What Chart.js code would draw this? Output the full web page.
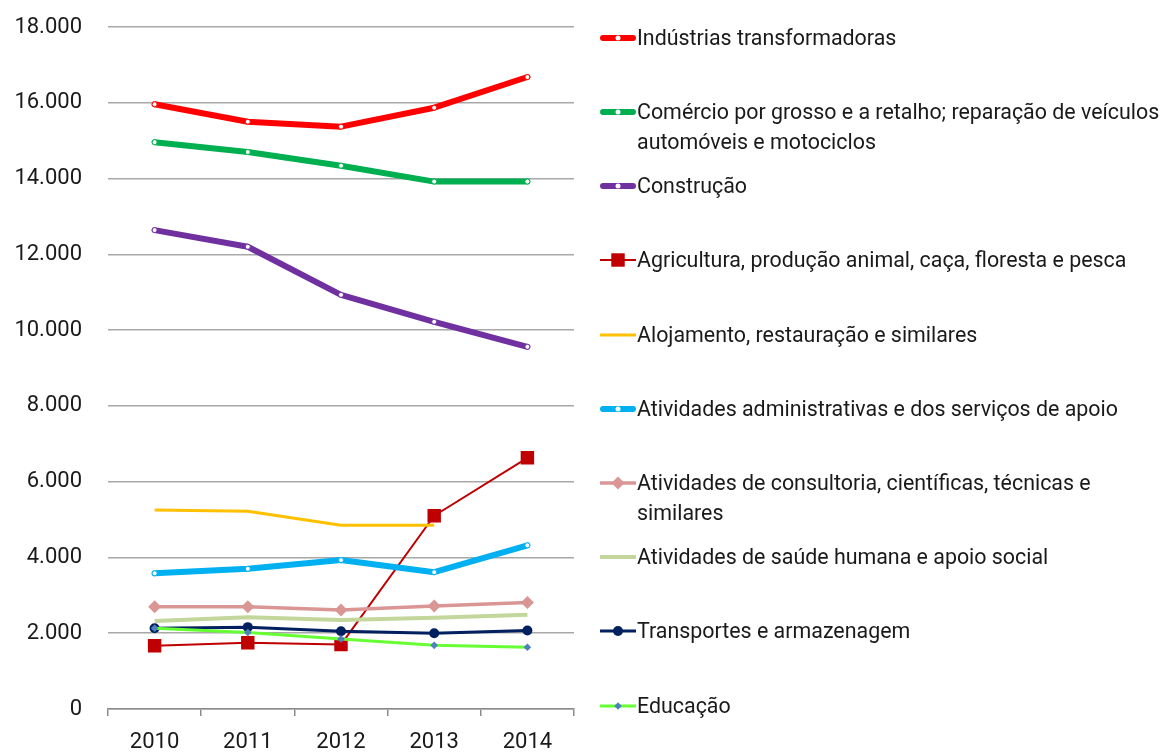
<!DOCTYPE html>
<html>
<head>
<meta charset="utf-8">
<script src="https://cdn.jsdelivr.net/npm/chart.js@4/dist/chart.umd.min.js"></script>
<style>
body { margin: 0; background: #fff; font-family: Roboto, sans-serif; }
#wrap { position: relative; width: 1162px; height: 755px; overflow: hidden; }
#legend { position: absolute; left: 599px; top: 0; }
.item { position: absolute; left: 0; display: flex; align-items: flex-start; }
.item svg { flex: none; }
.item span { font-size: 21.4px; line-height: 30px; color: #1a1a1a; width: 535px; }
</style>
</head>
<body>
<div id="wrap">
  <canvas id="chart" width="1162" height="755"></canvas>
  <div id="legend"></div>
</div>
<script>
var years = ['2010', '2011', '2012', '2013', '2014'];

var seriesNames = [
    'Indústrias transformadoras',
    'Comércio por grosso e a retalho; reparação de veículos automóveis e motociclos',
    'Construção',
    'Agricultura, produção animal, caça, floresta e pesca',
    'Alojamento, restauração e similares',
    'Atividades administrativas e dos serviços de apoio',
    'Atividades de consultoria, científicas, técnicas e similares',
    'Atividades de saúde humana e apoio social',
    'Transportes e armazenagem',
    'Educação'
];

var industria    = [15960, 15500, 15370, 15870, 16680];
var comercio     = [14960, 14700, 14340, 13920, 13920];
var construcao   = [12640, 12200, 10930, 10220, 9560];
var agricultura  = [1670, 1750, 1700, 5100, 6630];
var alojamento   = [5250, 5220, 4850, 4850, null];
var administr    = [3580, 3700, 3930, 3610, 4320];
var consultoria  = [2700, 2700, 2610, 2720, 2810];
var saude        = [2320, 2420, 2350, 2410, 2490];
var transportes  = [2130, 2160, 2050, 2000, 2070];
var educacao     = [2130, 2020, 1850, 1680, 1630];

var yTicks = [0, 2000, 4000, 6000, 8000, 10000, 12000, 14000, 16000, 18000];

var allValues = [industria, comercio, construcao, agricultura, alojamento,
                 administr, consultoria, saude, transportes, educacao];

// look of each series (line colour, width, marker)
var looks = [
    { color: '#ff0000', width: 6, shape: 'circle', r: 2.5, fill: '#ffffff' },
    { color: '#00b050', width: 6, shape: 'circle', r: 2.5, fill: '#ffffff' },
    { color: '#7030a0', width: 6, shape: 'circle', r: 2.5, fill: '#ffffff' },
    { color: '#c00000', width: 2, shape: 'rect', r: 9.5, fill: '#c00000' },
    { color: '#ffc000', width: 3, shape: null },
    { color: '#00b0f0', width: 6, shape: 'circle', r: 2.5, fill: '#ffffff' },
    { color: '#d99694', width: 3.5, shape: 'rectRot', r: 6.5, fill: '#d99694' },
    { color: '#c3d69b', width: 4, shape: null },
    { color: '#002060', width: 3, shape: 'circle', r: 5, fill: '#002060' },
    { color: '#66ff33', width: 3, shape: 'rectRot', r: 3.8, fill: '#4f81bd', markerBorder: '#4f81bd' }
];

function thousands(v) {
    return String(v).replace(/\B(?=(\d{3})+(?!\d))/g, '.');
}

var datasets = [];
for (var i = 0; i < seriesNames.length; i++) {
    var lk = looks[i];
    datasets.push({
        label: seriesNames[i],
        data: allValues[i],
        borderColor: lk.color,
        borderWidth: lk.width,
        borderCapStyle: lk.width >= 6 ? 'round' : 'butt',
        borderJoinStyle: 'round',
        tension: 0,
        pointStyle: lk.shape || 'circle',
        pointRadius: lk.shape ? lk.r : 0,
        pointHoverRadius: lk.shape ? lk.r : 0,
        pointBackgroundColor: lk.fill,
        pointBorderColor: lk.markerBorder || lk.color,
        pointBorderWidth: lk.shape === 'circle' && lk.fill === '#ffffff' ? 1 : 0,
        order: seriesNames.length - i
    });
}

var lineChart = new Chart(document.getElementById('chart'), {
    type: 'line',
    data: { labels: years, datasets: datasets },
    options: {
        responsive: false,
        animation: false,
        events: [],
        layout: { padding: { left: 0, right: 588, top: 27, bottom: 0 } },
        scales: {
            x: {
                offset: true,
                grid: { offset: true, drawOnChartArea: false, drawTicks: true, tickLength: 7, color: '#8c8c8c', lineWidth: 1.5 },
                border: { color: '#8c8c8c', width: 1.5 },
                ticks: { color: '#1a1a1a', font: { family: 'Roboto', size: 22 }, padding: 13, maxRotation: 0 },
                afterFit: function (scale) { scale.height = 46; }
            },
            y: {
                min: 0,
                max: 18000,
                afterBuildTicks: function (scale) {
                    scale.ticks = yTicks.map(function (v) { return { value: v }; });
                },
                grid: { color: '#a8a8a8', lineWidth: 1.5, drawTicks: false },
                border: { display: false },
                ticks: {
                    color: '#1a1a1a',
                    font: { family: 'Roboto', size: 22 },
                    padding: 26,
                    callback: function (v) { return thousands(v); }
                },
                afterFit: function (scale) {
                    scale.width = 108;
                    scale.paddingTop = 0;
                    scale.paddingBottom = 0;
                }
            }
        },
        plugins: {
            legend: { display: false },
            tooltip: { enabled: false }
        }
    }
});

// legend on the right, built from the same series
function markerSvg(lk) {
    var s = '<svg width="38" height="30" xmlns="http://www.w3.org/2000/svg">';
    var cap = lk.width >= 6 ? 'round' : 'butt';
    var x1 = cap === 'round' ? 4 : 1, x2 = cap === 'round' ? 34 : 37;
    s += '<line x1="' + x1 + '" y1="15" x2="' + x2 + '" y2="15" stroke="' + lk.color +
         '" stroke-width="' + lk.width + '" stroke-linecap="' + cap + '"/>';
    var cx = 19, cy = 15;
    if (lk.shape === 'circle') {
        s += '<circle cx="' + cx + '" cy="' + cy + '" r="' + lk.r + '" fill="' + lk.fill + '"/>';
    } else if (lk.shape === 'rect') {
        var h = lk.r * Math.SQRT1_2;
        s += '<rect x="' + (cx - h) + '" y="' + (cy - h) + '" width="' + 2 * h + '" height="' + 2 * h + '" fill="' + lk.fill + '"/>';
    } else if (lk.shape === 'rectRot') {
        var r = lk.r;
        s += '<polygon points="' + cx + ',' + (cy - r) + ' ' + (cx + r) + ',' + cy + ' ' + cx + ',' + (cy + r) + ' ' + (cx - r) + ',' + cy + '" fill="' + lk.fill + '"/>';
    }
    return s + '</svg>';
}

var legendBox = document.getElementById('legend');
for (var j = 0; j < seriesNames.length; j++) {
    var div = document.createElement('div');
    div.className = 'item';
    div.style.top = (22.7 + j * 74.2) + 'px';
    div.innerHTML = markerSvg(looks[j]) + '<span>' + seriesNames[j] + '</span>';
    legendBox.appendChild(div);
}
</script>
</body>
</html>
